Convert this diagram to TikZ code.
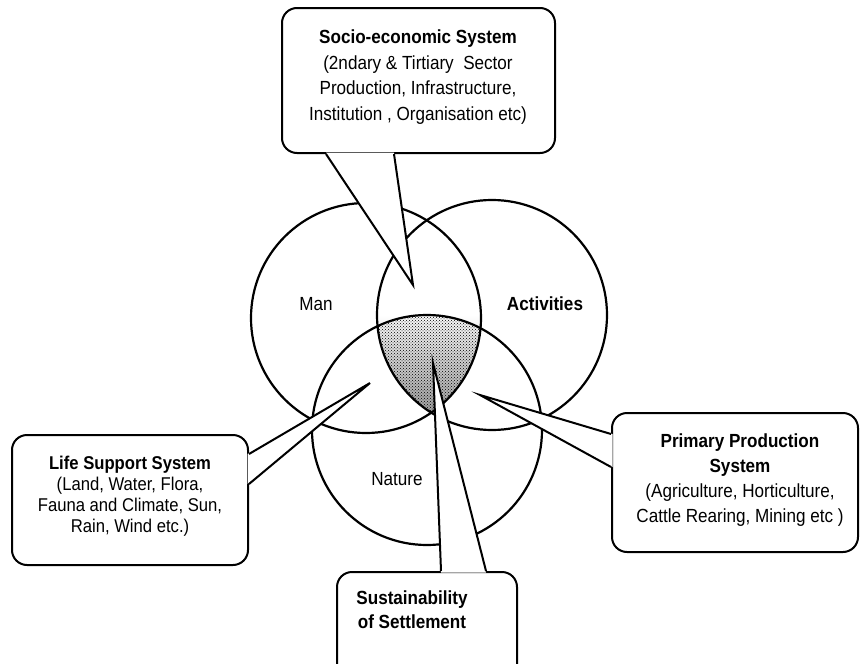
\documentclass[tikz,border=0pt]{standalone}
\usepackage{fontspec}
\setmainfont{Liberation Sans}[FakeStretch=0.9]
\usetikzlibrary{patterns,calc}
\tikzset{
  ring/.style={draw=black,line width=2.2pt},
  boxshape/.style={draw=black,fill=white,line width=2pt,rounded corners=15pt,inner sep=0pt},
  ptr/.style={draw=black,line width=2pt,line join=miter},
  ptrfill/.style={fill=white},
  lbl/.style={font=\fontsize{19}{22}\selectfont,inner sep=0pt},
  txt/.style={align=center,inner sep=0pt},
}
\begin{document}
\begin{tikzpicture}[x=1pt,y=-1pt]
\useasboundingbox (0,0) rectangle (860,664);
\clip (0,0) rectangle (860,664);
% circles
\coordinate (cman) at (366,318);
\coordinate (cact) at (492,315);
\coordinate (cnat) at (427,430);
% shaded triple intersection
\begin{scope}
  \clip (cman) circle (115);
  \clip (cact) circle (115);
  \fill[gray!22] (cnat) circle (115);
  \shade[top color=white, bottom color=gray!80, opacity=0.9] (340,315) rectangle (520,410);
  \fill[pattern=crosshatch dots, pattern color=black] (cnat) circle (115);
\end{scope}
\draw[ring] (cman) circle (115);
\draw[ring] (cact) circle (115);
\draw[ring] (cnat) circle (115);
\node[lbl] (man) at (316,304) {Man};
\node[lbl,font=\fontsize{19}{22}\selectfont\bfseries] (act) at (545,304) {Activities};
\node[lbl] (nat) at (397,479) {Nature};

% ---- Socio-economic callout
\node[boxshape,minimum width=273pt,minimum height=145pt] (socio) at (418.5,80.5) {};
\coordinate (tipS) at (413,285);
\coordinate (sA) at ($(socio.south west)+(45,0)$);
\coordinate (sB) at ($(socio.south west)+(113,0)$);
\fill[ptrfill] ($(sA)+(0,-1.5)$) -- (tipS) -- ($(sB)+(0,-1.5)$) -- cycle;
\draw[ptr] (sA) -- (tipS) -- (sB);
\node[txt,font=\fontsize{19}{25.5}\selectfont] (sociot) at (418,77)
  {\textbf{Socio-economic System}\\(2ndary \& Tirtiary\ \ Sector\\Production, Infrastructure,\\Institution , Organisation etc)};

% ---- Life support callout
\node[boxshape,minimum width=236pt,minimum height=130pt] (life) at (130,500) {};
\coordinate (tipL) at (370,383);
\coordinate (lA) at ($(life.north east)+(0,20)$);
\coordinate (lB) at ($(life.north east)+(0,50)$);
\fill[ptrfill] ($(lA)+(-1.5,0)$) -- (tipL) -- ($(lB)+(-1.5,0)$) -- cycle;
\draw[ptr] (lA) -- (tipL) -- (lB);
\node[txt,font=\fontsize{18.5}{21}\selectfont] (lifet) at (130,496)
  {\textbf{Life Support System}\\(Land, Water, Flora,\\Fauna and Climate, Sun,\\Rain, Wind etc.)};

% ---- Primary production callout
\node[boxshape,minimum width=246pt,minimum height=139pt] (prim) at (735,482.5) {};
\coordinate (tipP) at (480,395);
\coordinate (pA) at ($(prim.north west)+(0,22)$);
\coordinate (pB) at ($(prim.north west)+(0,55)$);
\fill[ptrfill] ($(pA)+(1.5,0)$) -- (tipP) -- ($(pB)+(1.5,0)$) -- cycle;
\draw[ptr] (pA) -- (tipP) -- (pB);
\node[txt,font=\fontsize{19}{25}\selectfont] (primt) at (740,480)
  {\textbf{Primary Production}\\\textbf{System}\\(Agriculture, Horticulture,\\Cattle Rearing, Mining etc )};

% ---- Sustainability callout
\node[boxshape,minimum width=180pt,minimum height=130pt] (sust) at (427,637) {};
\coordinate (tipU) at (433,363);
\coordinate (uA) at ($(sust.north west)+(105,0)$);
\coordinate (uB) at ($(sust.north west)+(150,0)$);
\fill[ptrfill] ($(uA)+(0,1.5)$) -- (tipU) -- ($(uB)+(0,1.5)$) -- cycle;
\draw[ptr] (uA) -- (tipU) -- (uB);
\node[txt,font=\fontsize{19}{24}\selectfont\bfseries] (sustt) at (412,610)
  {Sustainability\\of Settlement};
\end{tikzpicture}
\end{document}
